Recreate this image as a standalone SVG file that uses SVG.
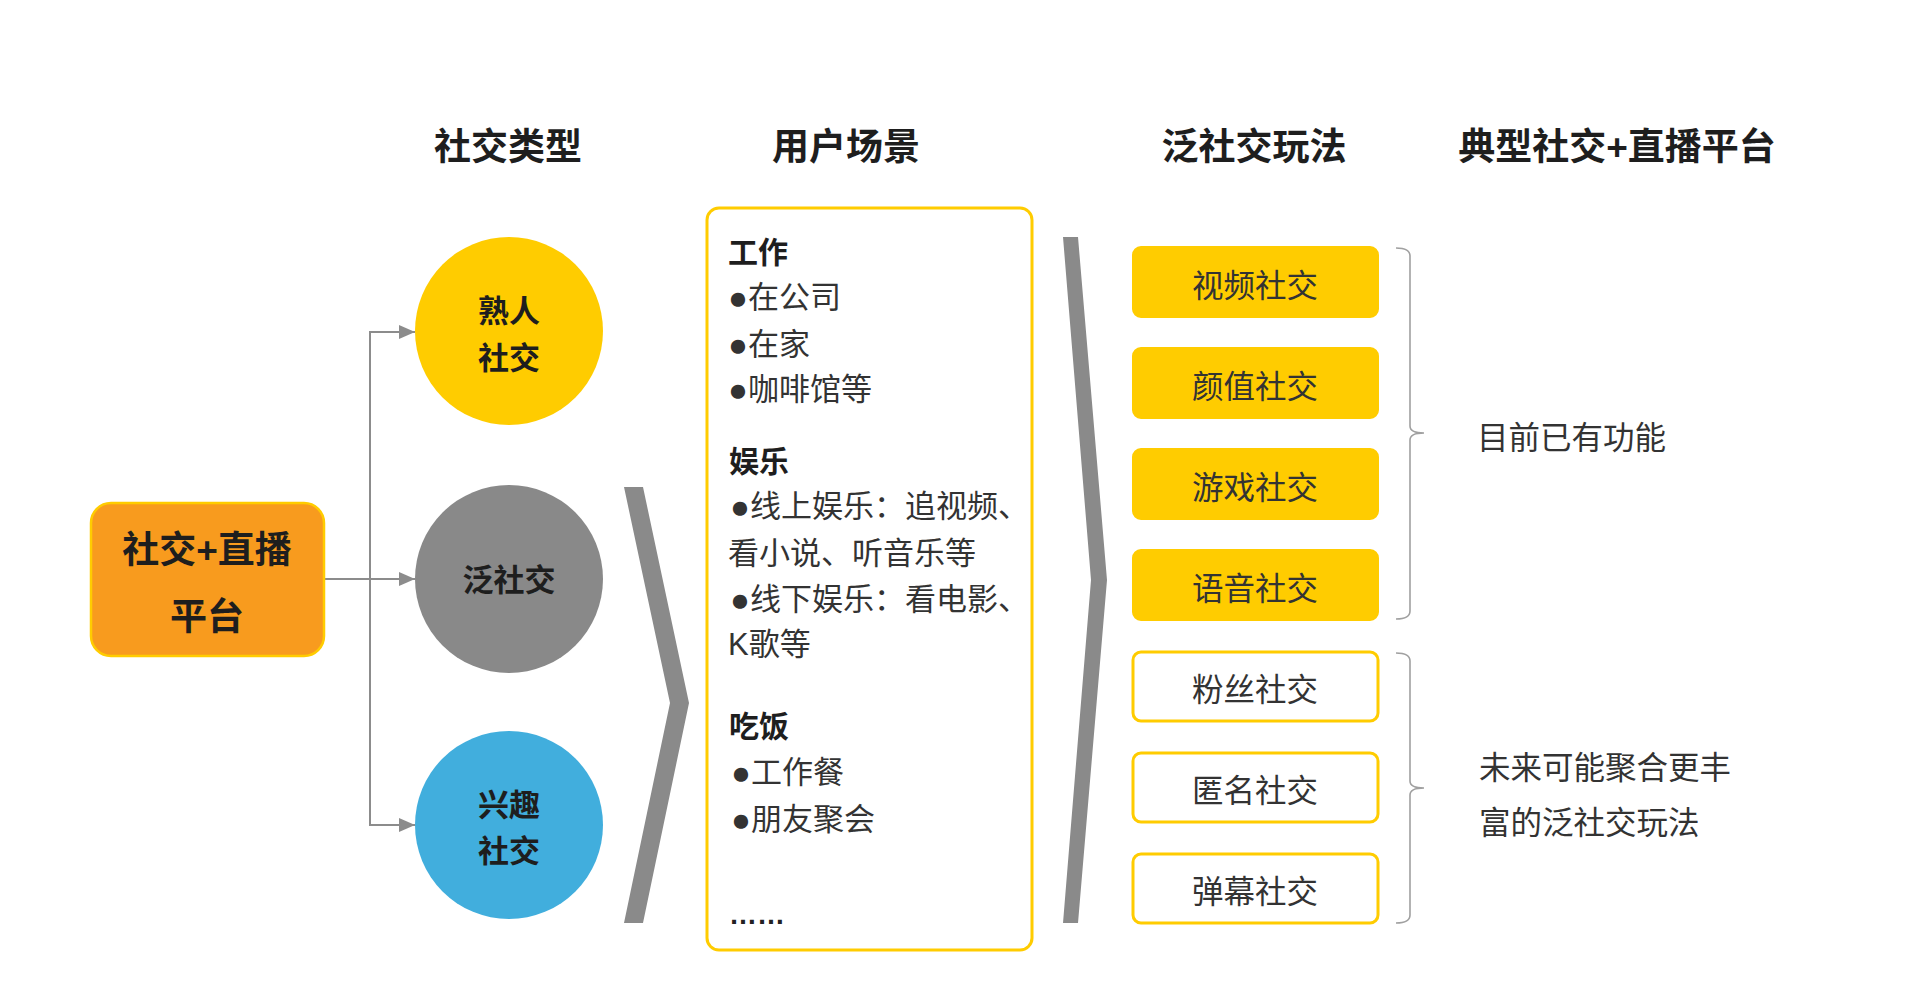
<svg xmlns="http://www.w3.org/2000/svg" width="1918" height="991" viewBox="0 0 1918 991">
<defs>
<marker id="arr" markerWidth="16" markerHeight="14" refX="16" refY="7" orient="auto" markerUnits="userSpaceOnUse">
<path d="M0,0 L16,7 L0,14 Z" fill="#8c8c8c"/>
</marker>
<style>
text{font-family:"Liberation Sans","Noto Sans CJK SC",sans-serif;}
.title{font-size:37px;font-weight:700;fill:#1e1e1e;text-anchor:middle;dominant-baseline:central;}
.circ{font-size:31px;font-weight:700;fill:#1e1e1e;text-anchor:middle;dominant-baseline:central;}
.body{font-size:31px;fill:#333;dominant-baseline:central;}
.bul{font-size:33px;}
.head{font-size:30px;font-weight:700;fill:#1e1e1e;dominant-baseline:central;}
.btxt{font-size:31.5px;fill:#333;text-anchor:middle;dominant-baseline:central;}
.side{font-size:31.5px;fill:#333;dominant-baseline:central;}
.conn{stroke:#8c8c8c;stroke-width:2;fill:none;}
.brace{stroke:#a0a0a0;stroke-width:1.6;fill:none;}
.fbox{fill:#FFCC00;stroke:#FFCC00;stroke-width:2;}
.obox{fill:#fff;stroke:#FFCC00;stroke-width:3;}
.chev{fill:#8a8a8a;}
</style>
</defs>
<rect width="1918" height="991" fill="#fff"/>

<g id="titles">
<text class="title" x="508" y="147">社交类型</text>
<text class="title" x="846" y="147">用户场景</text>
<text class="title" x="1254" y="147">泛社交玩法</text>
<text class="title" x="1617" y="147">典型社交+直播平台</text>
</g>

<g id="connectors">
<line class="conn" x1="324" y1="579" x2="415" y2="579" marker-end="url(#arr)"/>
<polyline class="conn" points="415,332 370,332 370,825 415,825"/>
<line class="conn" x1="370" y1="332" x2="415" y2="332" marker-end="url(#arr)"/>
<line class="conn" x1="370" y1="825" x2="415" y2="825" marker-end="url(#arr)"/>
<polygon class="chev" points="624,487 643,487 689,703 643,923 624,923 670,703"/>
<polygon class="chev" points="1063,237 1078,237 1107,580 1078,923 1063,923 1091,580"/>
<path class="brace" d="M1396,248 Q1410,248 1410,256 L1410,426 Q1410,433 1424,433 Q1410,433 1410,440 L1410,611 Q1410,619 1396,619"/>
<path class="brace" d="M1396,653 Q1410,653 1410,661 L1410,781 Q1410,788 1424,788 Q1410,788 1410,795 L1410,915 Q1410,923 1396,923"/>
</g>

<g id="platform">
<rect x="91" y="503" width="233" height="153" rx="20" fill="#F89B1E" stroke="#FFCC00" stroke-width="2.5"/>
<text class="title" x="207" y="550">社交+直播</text>
<text class="title" x="207" y="617">平台</text>
</g>

<g id="acquaintance">
<circle cx="509" cy="331" r="94" fill="#FFCC00"/>
<text class="circ" x="509" y="311">熟人</text>
<text class="circ" x="509" y="358">社交</text>
</g>
<g id="pan-social">
<circle cx="509" cy="579" r="94" fill="#898989"/>
<text class="circ" x="509" y="580">泛社交</text>
</g>
<g id="interest">
<circle cx="509" cy="825" r="94" fill="#41AEDD"/>
<text class="circ" x="509" y="805">兴趣</text>
<text class="circ" x="509" y="851">社交</text>
</g>

<g id="scenes">
<rect x="707" y="208" width="325" height="742" rx="12" fill="#fff" stroke="#FFCC00" stroke-width="3"/>
<text class="head" x="728" y="252">工作</text>
<text class="body" x="728" y="297"><tspan class="bul">●</tspan>在公司</text>
<text class="body" x="728" y="344"><tspan class="bul">●</tspan>在家</text>
<text class="body" x="728" y="389"><tspan class="bul">●</tspan>咖啡馆等</text>
<text class="head" x="729" y="461">娱乐</text>
<text class="body" x="730" y="506"><tspan class="bul">●</tspan>线上娱乐：追视频、</text>
<text class="body" x="728" y="553">看小说、听音乐等</text>
<text class="body" x="730" y="599"><tspan class="bul">●</tspan>线下娱乐：看电影、</text>
<text class="body" x="728" y="644">K歌等</text>
<text class="head" x="729" y="726">吃饭</text>
<text class="body" x="731" y="772"><tspan class="bul">●</tspan>工作餐</text>
<text class="body" x="731" y="819"><tspan class="bul">●</tspan>朋友聚会</text>
<text x="729" y="924" font-size="28" font-weight="700" fill="#222">……</text>
</g>

<g id="play-video"><rect class="fbox" x="1133" y="247" width="245" height="70" rx="8"/><text class="btxt" x="1255" y="286">视频社交</text></g>
<g id="play-looks"><rect class="fbox" x="1133" y="348" width="245" height="70" rx="8"/><text class="btxt" x="1255" y="387">颜值社交</text></g>
<g id="play-game"><rect class="fbox" x="1133" y="449" width="245" height="70" rx="8"/><text class="btxt" x="1255" y="488">游戏社交</text></g>
<g id="play-voice"><rect class="fbox" x="1133" y="550" width="245" height="70" rx="8"/><text class="btxt" x="1255" y="589">语音社交</text></g>
<g id="play-fans"><rect class="obox" x="1133" y="652" width="245" height="69" rx="8"/><text class="btxt" x="1255" y="690">粉丝社交</text></g>
<g id="play-anon"><rect class="obox" x="1133" y="753" width="245" height="69" rx="8"/><text class="btxt" x="1255" y="791">匿名社交</text></g>
<g id="play-danmu"><rect class="obox" x="1133" y="854" width="245" height="69" rx="8"/><text class="btxt" x="1255" y="892">弹幕社交</text></g>

<g id="note-current">
<text class="side" x="1477" y="438">目前已有功能</text>
</g>
<g id="note-future">
<text class="side" x="1479" y="768">未来可能聚合更丰</text>
<text class="side" x="1479" y="823">富的泛社交玩法</text>
</g>
</svg>
